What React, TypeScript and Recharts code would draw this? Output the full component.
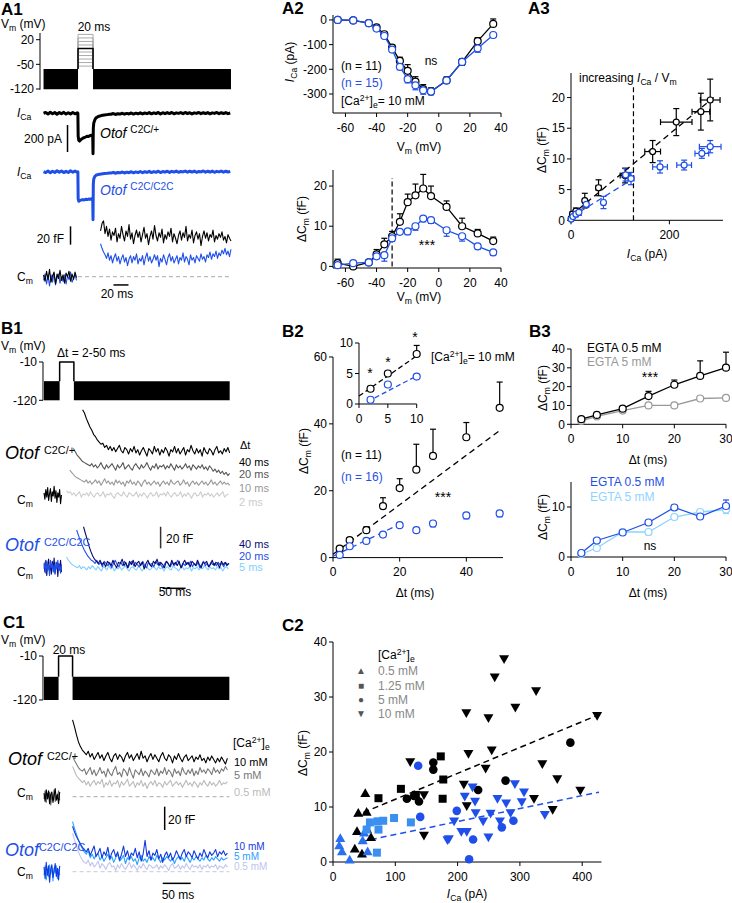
import React from 'react'
import { ComposedChart, Scatter, XAxis, YAxis, ErrorBar, ReferenceArea } from 'recharts'

// ---------- A1 example traces ----------
const a1Hold = [-121, -63]
const a1Blocks = [[0, 46], [66, 250]]
const a1Levels = [35, 25, 15, 5, -15, -25, -35, -45, -55]
const a1Peak = -5
const a1Pulse = [46, 66]
const a1IcaCtlPre = [0, 6, -5, 7, -4, 6, -7, 5, -3, 7, -6, 4, -5, 6, -4, 3]
const a1IcaCtlStep = [[45.8, 0], [46.2, -170], [47, -200], [48, -206], [50, -194], [52, -186], [54, -180], [56, -176], [58, -170], [60, -172], [62, -166], [64, -162], [65.6, -166], [66, -300], [66.4, -110], [67, -72], [68.5, -48], [70, -34], [73, -24], [77, -17], [81, -13], [85, -10], [88, -8]]
const a1IcaCtlPost = [-7, -2, -9, -3, -6, 0, -7, -1, -5, 2, -6, 1, -4, 3, -5, 2, -3, 5, -4, 3, -2, 6, -5, 4, -3, 5, -2, 6, -4, 3, -1, 5, -3, 6, -2, 4, -5, 3, -1, 6, -3, 4, -2, 5, -4, 3, -1, 6, -3, 4, -2, 5, -3, 2]
const a1IcaMutPre = [0, -6, 5, -7, 4, -5, 7, -4, 6, -6, 3, -5, 7, -3, 5, -4]
const a1IcaMutStep = [[45.8, 0], [46.2, -200], [47, -218], [48, -214], [50, -210], [52, -206], [54, -209], [56, -204], [58, -206], [60, -202], [62, -204], [64, -200], [65.6, -206], [66, -355], [66.4, -90], [67, -52], [68.5, -34], [70, -26], [73, -20], [77, -16], [81, -13], [85, -11], [88, -9]]
const a1IcaMutPost = [-10, -4, -11, -5, -8, -2, -9, -3, -7, 0, -8, -1, -6, 2, -7, 0, -5, 3, -6, 1, -4, 4, -6, 2, -3, 4, -5, 3, -2, 5, -4, 2, -1, 5, -3, 4, -2, 5, -4, 2, -1, 6, -3, 4, -2, 5, -4, 3, -1, 5, -3, 4, -2, 3]
const a1PreCtl = [2, -5, 6, -3, 8, -6, 1, 5, -8, 3, -2, 7, -4, 2, -7, 4, 0, 6, -5, 3, -3, 5, -1]
const a1PreMut = [-4, 3, -8, 1, -10, 2, -6, 4, -9, -1, 3, -7, 0, -5, 2, -8, 1, -3, 5, -6, -2, 3, -4]
const a1CmCtl = [50, 58, 61, 47, 55, 44, 52, 40, 49, 45, 53, 38, 47, 42, 55, 46, 39, 50, 44, 57, 41, 48, 36, 45, 51, 43, 49, 38, 46, 54, 42, 47, 35, 44, 50, 41, 56, 45, 39, 48, 43, 52, 37, 46, 41, 49, 44, 53, 38, 47, 42, 36, 45, 50, 40, 48, 43, 55, 39, 46, 42, 51, 37, 45, 49, 41, 47, 34, 44, 50, 42, 48, 39, 46, 43, 51, 38, 45, 41, 47, 43, 49, 40, 44, 37, 46, 42, 39]
const a1CmMut = [36, 31, 27, 24, 20, 26, 18, 23, 15, 21, 25, 17, 22, 14, 20, 24, 16, 21, 12, 19, 23, 15, 22, 18, 25, 14, 20, 17, 23, 13, 21, 26, 17, 22, 15, 19, 24, 18, 23, 11, 20, 16, 24, 19, 13, 21, 25, 17, 22, 15, 19, 23, 14, 21, 18, 26, 16, 22, 19, 13, 24, 18, 21, 15, 23, 20, 17, 25, 19, 22, 16, 24, 21, 27, 19, 25, 22, 28, 20, 26, 23, 29, 25, 31, 24, 28, 22, 30]

// ---------- A2 ----------
const vmSteps = [-65, -55, -45, -40, -35, -30, -25, -20, -15, -10, -5, 5, 15, 25, 35]
const icaCtl = [0, -2, -13, -30, -58, -112, -166, -206, -250, -280, -290, -245, -170, -86, -16]
const icaCtlSem = [2, 2, 4, 5, 8, 10, 15, 25, 20, 18, 15, 14, 12, 14, 20]
const icaMut = [0, -2, -13, -35, -65, -120, -190, -240, -265, -285, -290, -245, -170, -115, -61]
const icaMutSem = [2, 2, 4, 5, 8, 10, 12, 15, 18, 16, 14, 12, 14, 16, 10]
const dcmCtl = [0.8, 0, 1, 3, 5.5, 7.5, 11.1, 16, 17.7, 19.4, 17.5, 14.8, 10, 8.2, 6.3]
const dcmCtlSem = [1, 0.5, 0.5, 1.2, 1.5, 1.2, 2, 2, 2.8, 3.5, 2.5, 1.5, 2, 1, 1]
const dcmMut = [0.3, 0.8, 1, 2.5, 2.8, 7, 8.6, 8.7, 10, 11.9, 11.5, 9, 7.5, 5, 3.5]
const dcmMutSem = [0.5, 0.5, 0.5, 0.6, 1.5, 0.8, 0.6, 0.8, 1, 0.8, 0.8, 1.5, 1.2, 0.8, 0.8]

// ---------- A3 ----------
const a3CtlI = [0.5, 3, 10, 28, 56, 110, 166, 214, 264, 283]
const a3CtlC = [0.3, 1.0, 1.5, 3.2, 5.3, 7.3, 11.2, 16, 17.7, 19.6]
const a3CtlIe = [0.5, 2, 3, 4, 5, 10, 16, 32, 18, 20]
const a3CtlCe = [0.3, 0.4, 0.5, 1.2, 1.3, 1.2, 1.8, 2.2, 3, 3.4]
const a3MutI = [0.5, 4, 10, 16, 31, 66, 111, 122, 181, 230, 266, 283]
const a3MutC = [0.2, 0.6, 1.0, 1.3, 2.6, 2.9, 7.4, 6.8, 8.7, 9.0, 10.9, 12.0]
const a3MutIe = [0.5, 2, 3, 4, 5, 4, 7, 6, 15, 15, 14, 22]
const a3MutCe = [0.2, 0.3, 0.4, 0.5, 0.5, 1, 1, 1, 1, 0.8, 0.8, 1]
const a3FitCtl = [[0, 0.8], [290, 20]]
const a3FitMut = [[0, 0.5], [127, 6.8]]
const a3Thresh = 127

// ---------- B1 ----------
const b1Pulse = [34, 65]
const b1Blocks = [[0, 34], [65, 404]]
const b1PreCtl = [2, -4, 5, -2, 7, -5, 1, 6, -6, 3, -1, 8, -3, 4, -7, 2, -2, 5, -8, 0]
const b1Ctl40 = [79, 76, 71, 67, 63, 60, 56, 54, 51, 49, 47, 48, 44, 46, 42, 45, 41, 44, 40, 43, 46, 41, 39, 44, 42, 38, 43, 40, 45, 39, 42, 37, 41, 44, 40, 36, 43, 41, 38, 45, 40, 43, 37, 42, 39, 44, 41, 36, 42, 40, 45, 39, 43, 38, 41, 44, 37, 42, 40, 46, 41, 38, 43, 39, 42, 36, 44, 40, 38, 43, 41, 37, 42, 45, 39, 41, 38, 43, 40, 44, 39]
const b1Ctl20 = [43, 40, 37, 35, 33, 31, 30, 29, 28, 27, 29, 26, 28, 25, 27, 30, 26, 24, 28, 25, 27, 29, 26, 23, 28, 25, 27, 30, 24, 26, 28, 25, 23, 27, 29, 26, 24, 28, 25, 27, 30, 26, 23, 27, 25, 29, 24, 27, 26, 28, 24, 27, 25, 29, 26, 23, 28, 25, 27, 24, 26, 29, 25, 27, 23, 28, 26, 24, 27, 25, 28, 24, 26, 23, 27, 25, 22, 24, 21, 23, 20, 22, 19, 21, 18, 20]
const b1Ctl10 = [23, 21, 19, 17, 16, 15, 14, 13, 12, 14, 11, 13, 10, 12, 14, 11, 13, 9, 12, 15, 11, 13, 10, 12, 9, 14, 11, 13, 10, 12, 8, 13, 11, 14, 10, 12, 9, 13, 11, 8, 12, 14, 10, 12, 9, 11, 13, 10, 12, 8, 11, 13, 10, 12, 9, 14, 11, 10, 12, 13, 9, 11, 14, 10, 12, 8, 11, 13, 10, 12, 9, 11, 13, 10, 12, 9, 11, 14, 10, 12, 9, 11, 13, 10, 12, 10, 11, 9]
const b1Ctl2 = [4, 2, 3, 0, 2, -1, 1, 3, -2, 1, 0, 2, -1, 3, 0, -2, 1, 2, -1, 0, 3, -2, 1, 0, 2, -1, -3, 1, 2, 0, -1, 3, 0, -2, 2, 1, -1, 0, 3, -2, 1, -1, 2, 0, -3, 1, 2, -1, 0, 3, -2, 1, 0, 2, -1, 3, 0, -2, 1, 2, -1, 0, 3, -2, 1, -1, 2, 0, -3, 1, 2, -1, 0, 3, -2, 1, 0, 2, -1, 1, -2, 0, 2, -1, 1, 3, -2, 0, 1]
const b1PreMutA = [3, -5, 6, -8, 2, 7, -4, 1, -7, 5, -2, 8, -6, 0, 4, -9, 3, -3, 6, -5]
const b1PreMutB = [-2, 4, -6, 5, -3, 1, -8, 6, -1, 3, -5, 2, -7, 4, -2, 6, -4, 1, -6, 2]
const b1Mut40 = [37, 31, 25, 19, 14, 10, 7, 5, 3, 6, 2, 4, 0, 5, 3, 1, 6, 2, -1, 4, 3, 7, 1, 4, -1, 5, 2, 6, 0, 3, 5, 1, 4, -2, 3, 6, 2, 0, 5, 3, 7, 1, 4, 2, -1, 5, 3, 0, 6, 2, 4, 1, 5, -1, 3, 6, 2, 4, 0, 5, 3, 1, 6, 2, -1, 4, 3, 5, 0, 2, 6, 1, 4, 3, -1, 5, 2, 4, 1, 3]
const b1Mut20 = [34, 29, 24, 20, 16, 13, 10, 8, 6, 5, 3, 6, 2, 4, 0, 5, 3, 1, 4, -1, 3, 6, 2, 0, 4, 1, 5, 2, -1, 3, 5, 1, 4, 2, 0, 3, 5, 1, -1, 4, 2, 3, 0, 5, 2, 4, 1, -1, 3, 5, 2, 0, 4, 1, 3, 6, 2, -1, 3, 1, 4, 2, 5, 0, 3, 1, 4, -1, 2, 5, 1, 3, 0, 4, 2, 3, 1, 4, 2, 3, 0, 4, 2, 3]
const b1Mut5 = [9, 6, 4, 2, 1, 0, -1, 1, -2, 0, -1, -3, 0, -2, 1, -1, -3, 0, -2, -4, 0, -1, -3, 1, -2, 0, -4, -1, -2, 0, -3, -1, 1, -2, -4, -1, 0, -2, -3, 0, -1, -4, -2, 0, -1, -3, -2, 0, -1, -3, 0, -2, -1, -4, -1, 0, -2, -3, 1, -1, -2, -4, -1, 0, -3, -1, -2, 0, -4, -1, -2, 0, -3, -1, -2, 1, -1, -3, 0, -2, -1, -3, 0, -2, -1, -4, -1, 0, -2]

// ---------- B2 ----------
const dtSteps = [2, 5, 10, 15, 20, 25, 30, 40, 50]
const b2Ctl = [2.7, 5.2, 8.2, 15.4, 20.8, 26.3, 30.4, 36, 44.8]
const b2CtlSem = [0.5, 0.7, 1, 2.5, 2.8, 7.6, 8, 4.4, 7.7]
const b2Mut = [0.8, 3.4, 5.0, 6.9, 9.7, 8.2, 10.2, 12.6, 13.2]
const b2MutSem = [0.5, 0.5, 0.5, 0.6, 0.6, 0.6, 1, 1, 1]
const b2FitCtl = [[0, 1], [50, 38]]
const b2FitMut = [[0, 0.4], [20, 10]]
const insetDt = [2, 5, 10]
const insetCtl = [2.5, 5, 8.2]
const insetCtlSem = [0.4, 0.4, 1.4]
const insetMut = [0.7, 3.2, 4.5]
const insetMutSem = [0.3, 0.3, 0.3]
const insetFitCtl = [[0, 1.3], [10, 7.9]]
const insetFitMut = [[1.5, 0.4], [10, 4.6]]

// ---------- B3 ----------
const b3Dt = [2, 5, 10, 15, 20, 25, 30]
const b3CtlLo = [2.7, 5, 8.3, 15, 21, 25.7, 30.1]
const b3CtlLoSem = [0.5, 0.5, 1, 2.5, 2.5, 8, 8.2]
const b3CtlHi = [1.8, 4.2, 7.3, 10, 10, 13.7, 14]
const b3CtlHiSem = [0.3, 0.3, 0.3, 0.5, 0.5, 0.5, 0.5]
const b3MutLo = [0.8, 3.3, 4.9, 6.9, 9.9, 8.1, 10.2]
const b3MutLoSem = [0.3, 0.3, 0.3, 0.3, 0.4, 0.3, 1.2]
const b3MutHi = [0.6, 1.8, 5, 5, 8, 9, 9.5]
const b3MutHiSem = [0.2, 0.2, 0.3, 0.6, 0.3, 0.3, 0.8]

// ---------- C1 ----------
const c1Pulse = [26, 51]
const c1Blocks = [[0, 26], [51, 331]]
const c1PreA = [3, -4, 6, -2, 5, -6, 2, 4, -5, 1, 7, -3, 2, -6, 4]
const c1PreB = [-2, 5, -5, 3, -1, 4, -7, 2, -3, 6, -4, 1, -2, 5, -3]
const c1Ctl10 = [66, 60, 53, 47, 43, 40, 38, 36, 39, 34, 37, 32, 35, 38, 33, 36, 31, 35, 38, 33, 30, 35, 37, 32, 36, 34, 30, 35, 38, 33, 36, 31, 34, 37, 32, 39, 33, 35, 30, 34, 37, 32, 36, 33, 30, 35, 38, 33, 31, 36, 34, 29, 35, 32, 37, 33, 30, 34, 36, 31, 33, 35, 30, 34, 32, 36, 31, 33, 29, 34, 31, 35, 32, 29, 33, 30, 34, 31, 28, 33]
const c1Ctl5 = [35, 31, 28, 25, 23, 22, 24, 19, 22, 25, 19, 23, 18, 21, 25, 20, 22, 17, 24, 20, 18, 23, 26, 19, 21, 17, 24, 22, 18, 25, 20, 16, 23, 21, 19, 24, 18, 22, 20, 17, 23, 21, 19, 24, 18, 22, 20, 25, 19, 23, 21, 17, 24, 20, 22, 18, 25, 21, 19, 23, 20, 24, 18, 22, 19, 25, 21, 23, 20, 24, 22, 19, 25, 21, 23, 20, 24, 22, 26, 23]
const c1Ctl05 = [26, 22, 18, 16, 14, 12, 14, 10, 13, 9, 12, 14, 10, 13, 11, 15, 8, 12, 10, 14, 9, 12, 11, 14, 8, 13, 10, 12, 15, 9, 11, 13, 8, 12, 10, 14, 9, 12, 7, 11, 13, 10, 14, 9, 12, 11, 8, 13, 10, 12, 14, 9, 11, 13, 10, 12, 8, 11, 14, 10, 12, 9, 13, 11, 8, 12, 10, 14, 11, 9, 13, 10, 12, 9, 11, 14, 10, 12, 11, 13]
const c1PreC = [4, -6, 8, -3, 5, -9, 2, 6, -5, 1, 7, -4, 3, -7, 5]
const c1PreD = [-3, 5, -7, 2, -4, 6, -2, 4, -8, 3, -1, 5, -6, 2, -3]
const c1Mut10 = [39, 34, 30, 27, 24, 21, 19, 17, 20, 14, 18, 22, 13, 16, 20, 12, 17, 14, 21, 11, 16, 19, 13, 17, 10, 15, 22, 13, 18, 11, 16, 14, 20, 12, 17, 9, 15, 27, 13, 18, 10, 16, 14, 19, 11, 15, 8, 14, 17, 12, 16, 10, 13, 18, 14, 11, 16, 19, 13, 17, 15, 12, 18, 14, 11, 16, 13, 19, 15, 12, 17, 14, 16, 19, 13, 17, 15, 18, 14, 16]
const c1Mut5 = [43, 37, 32, 27, 23, 20, 17, 15, 18, 12, 15, 11, 14, 16, 10, 13, 9, 12, 15, 10, 13, 8, 12, 15, 9, 11, 14, 7, 12, 10, 13, 9, 11, 6, 12, 14, 9, 11, 8, 13, 10, 12, 9, 14, 11, 8, 12, 10, 13, 11, 9, 12, 7, 11, 13, 10, 12, 9, 14, 11, 8, 12, 10, 13, 11, 9, 12, 10, 14, 11, 9, 12, 10, 13, 11, 9, 12, 10, 11, 12]
const c1Mut05 = [33, 27, 22, 17, 13, 10, 8, 7, 10, 5, 8, 4, 6, 9, 3, 7, 5, 2, 6, 8, 4, 5, 1, 6, 3, 7, 4, 2, 5, 8, 3, 6, 4, 1, 5, 3, 7, 4, 2, 6, 5, 3, 4, 6, 2, 5, 3, 6, 4, 1, 5, 7, 3, 4, 6, 2, 5, 3, 7, 4, 2, 6, 4, 5, 3, 6, 2, 5, 4, 6, 3, 5, 4, 6, 2, 5, 4, 3, 6, 4]

// ---------- C2 (ICa, dCm) ----------
const c2CtlTriUp = [[51.8, 12.5], [40.6, 8.9], [54, 9.1], [38.5, 5.6], [54.5, 6], [61, 4.5], [35, 2.4], [46.5, 1.5]]
const c2CtlSq = [[73, 11.6], [109, 13.3], [133, 12.2], [173, 19.2], [177, 15], [176, 11.5]]
const c2CtlCirc = [[161, 18.1], [161, 16.8], [118.6, 11.5], [130, 12], [138, 11], [233, 13.1], [277, 14.8], [381, 21.7]]
const c2CtlTriDn = [[124, 18.2], [146, 12.2], [146, 4.8], [274.6, 36.9], [259.6, 33.6], [326, 31.1], [214, 27.1], [249.5, 26.2], [292.7, 28.1], [424, 26.6], [217.4, 19.7], [254.8, 20.3], [245, 17], [336, 17.8], [360, 15.1], [210, 14.1], [397, 13], [322.6, 11.5], [214.7, 10.2], [352.6, 9.5]]
const c2MutTriUp = [[11.7, 4.3], [10, 3], [14.4, 1.9], [26.7, 0.4], [47.6, 3.9], [50, 5.3], [55.6, 1.9]]
const c2MutSq = [[59.3, 7.2], [71.6, 7.4], [80.6, 7.5], [98, 8], [73, 5.9], [70.5, 1.7], [125, 7.2], [54, 5.9]]
const c2MutCirc = [[136.7, 17.5], [140, 8.2], [198.7, 9.3], [271, 6.3], [289.6, 7.5], [224.9, 4.1], [218.5, 0.5]]
const c2MutTriDn = [[224, 13.6], [292, 14.2], [306.6, 12.7], [211.5, 11.9], [228, 11], [264, 11.5], [278, 10.7], [303, 10.9], [229, 8.9], [253, 8.8], [285, 8.9], [241, 7.4], [194.4, 7.4], [268, 7.4], [340, 8.6], [206, 5.5], [214.7, 5.5], [186, 4.2], [249.5, 4.5], [183.7, 4]]
const c2FitCtl = [[34, 8.3], [427, 26.8]]
const c2FitMut = [[45, 3.7], [427, 12.7]]

// ---------- helpers ----------
const FONT = '"Liberation Sans", Arial, sans-serif'
const BLUE = '#1f4fe8'

const pairs = (p: number[][]) => p.map(([x, y]) => ({ x, y }))
const series = (t0: number, dt: number, ys: number[]) => ys.map((y, i) => ({ x: t0 + i * dt, y }))
const withErr = (xs: number[], ys: number[], es: number[], dir: 'up' | 'down') =>
  xs.map((x, i) => ({ x, y: ys[i], e: dir === 'up' ? [0, es[i]] : [es[i], 0] }))
const vline = (x: number, y0: number, y1: number) => [{ x, y: y0 }, { x, y: y1 }]
const hline = (y: number, x0: number, x1: number) => [{ x: x0, y }, { x: x1, y }]
const pulse = (p: number[], base: number, v: number) => pairs([[p[0], base], [p[0], v], [p[1], v], [p[1], base]])

const noDot = () => <g />
const ring = (color: string, r = 3.5) => (p: any) => (
  <circle cx={p.cx} cy={p.cy} r={r} fill="#fff" stroke={color} strokeWidth={1.2} />
)
const solid = (kind: string, color: string) => (p: any) => {
  const { cx, cy } = p
  const s = 5
  if (kind === 'up') return <polygon points={`${cx},${cy - s} ${cx + s},${cy + s * 0.75} ${cx - s},${cy + s * 0.75}`} fill={color} />
  if (kind === 'down') return <polygon points={`${cx - s},${cy - s * 0.75} ${cx + s},${cy - s * 0.75} ${cx},${cy + s}`} fill={color} />
  if (kind === 'sq') return <rect x={cx - 4} y={cy - 4} width={8} height={8} fill={color} />
  return <circle cx={cx} cy={cy} r={4.3} fill={color} />
}

const trace = (key: string, data: any[], color: string, w = 1.1, dash?: string) => (
  <Scatter key={key} data={data} line={{ stroke: color, strokeWidth: w, strokeDasharray: dash, strokeLinejoin: 'round' }} shape={noDot} isAnimationActive={false} />
)
const markers = (key: string, data: any[], color: string, joined: boolean, r = 3.5) => (
  <Scatter key={key} data={data} line={joined ? { stroke: color, strokeWidth: 1.3 } : false} shape={ring(color, r)} isAnimationActive={false}>
    <ErrorBar dataKey="e" direction="y" width={3} stroke={color} strokeWidth={1.2} isAnimationActive={false} />
  </Scatter>
)
const blocks = (key: string, segs: number[][], lo: number, hi: number) =>
  segs.map((s, i) => <ReferenceArea key={key + i} x1={s[0]} x2={s[1]} y1={lo} y2={hi} fill="#000" fillOpacity={1} stroke="none" />)

interface PlotProps {
  l: number; t: number; w: number; h: number
  xd: number[]; yd: number[]
  xt?: number[]; yt?: number[]
  children?: React.ReactNode
}

function Plot({ l, t, w, h, xd, yd, xt, yt, children }: PlotProps) {
  const yw = yt ? 40 : 0
  const xh = xt ? 24 : 0
  const m = 8
  const mb = xt ? 0 : m
  const tick = { fill: '#000', fontSize: 12 }
  return (
    <div style={{ position: 'absolute', left: l - yw, top: t - m }}>
      <ComposedChart width={yw + w + m} height={m + h + xh + mb} margin={{ top: m, right: m, bottom: mb, left: 0 }}>
        <XAxis type="number" dataKey="x" domain={xd} ticks={xt} hide={!xt} height={xh} interval={0}
          tickSize={4} tickMargin={6} stroke="#000" tick={tick} />
        <YAxis type="number" dataKey="y" domain={yd} ticks={yt} hide={!yt} width={yw} interval={0}
          tickSize={4} tickMargin={2} stroke="#000" tick={tick} />
        {children}
      </ComposedChart>
    </div>
  )
}

const Sub = ({ children }: any) => <span style={{ fontSize: '0.72em', position: 'relative', top: '0.3em' }}>{children}</span>
const Sup = ({ children, f = 0.72 }: any) => <span style={{ fontSize: `${f}em`, position: 'relative', top: '-0.5em' }}>{children}</span>

function T({ x, y, children, a = 'start', s = 12, c = '#000', b = false, i = false, r = false }: any) {
  const tx = a === 'middle' ? '-50%' : a === 'end' ? '-100%' : '0'
  return (
    <div style={{
      position: 'absolute', left: x, top: y, whiteSpace: 'nowrap', lineHeight: 1,
      transform: `translate(${r ? '-50%' : tx}, -50%)${r ? ' rotate(-90deg)' : ''}`,
      fontSize: s, color: c, fontWeight: b ? 'bold' : 'normal', fontStyle: i ? 'italic' : 'normal',
    }}>{children}</div>
  )
}

const ICa = () => <><i>I</i><Sub>Ca</Sub></>
const DCm = () => <>ΔC<Sub>m</Sub> (fF)</>
const Vm = () => <>V<Sub>m</Sub> (mV)</>
const Cae = () => <>[Ca<Sup>2+</Sup>]<Sub>e</Sub></>

export default function App() {
  const icaCtlTrace = [...series(0, 3, a1IcaCtlPre), ...pairs(a1IcaCtlStep), ...series(90, 3, a1IcaCtlPost)]
  const icaMutTrace = [...series(0, 3, a1IcaMutPre), ...pairs(a1IcaMutStep), ...series(90, 3, a1IcaMutPost)]
  return (
    <div style={{ position: 'absolute', left: 0, top: 0, width: 732, height: 903, background: '#fff', fontFamily: FONT, overflow: 'hidden' }}>
      {/* ===== A1 ===== */}
      <Plot l={39.5} t={33.3} w={191} h={56.7} xd={[-4.7, 250]} yd={[-122, 39]} yt={[-120, -50, 20]}>
        {blocks('a1b', a1Blocks, a1Hold[0], a1Hold[1])}
        {a1Levels.map((v, i) => trace('a1l' + i, pulse(a1Pulse, a1Hold[1], v), '#aaa', 1))}
        {trace('a1pk', pulse(a1Pulse, a1Hold[1], a1Peak), '#000', 1.5)}
      </Plot>
      <Plot l={39.5} t={103} w={191} h={57} xd={[-4.7, 250]} yd={[-346, 76]}>
        {trace('a1ic', icaCtlTrace, '#000', 3)}
        {trace('a1sb', vline(32, -87, -287), '#000', 1.5)}
      </Plot>
      <Plot l={39.5} t={160} w={191} h={65} xd={[-4.7, 250]} yd={[-394, 87]}>
        {trace('a1im', icaMutTrace, BLUE, 3)}
      </Plot>
      <Plot l={39.5} t={215} w={191} h={77} xd={[-4.7, 250]} yd={[-16.7, 67.4]}>
        {trace('a1base', hline(0, 46, 250), '#aaa', 1, '4 3')}
        {trace('a1pm', series(0, 2, a1PreMut), BLUE)}
        {trace('a1pc', series(0, 2, a1PreCtl), '#000')}
        {trace('a1cm', series(76, 2, a1CmMut), BLUE)}
        {trace('a1cc', series(76, 2, a1CmCtl), '#000')}
        {trace('a1sbf', vline(36, 35, 55), '#000', 1.5)}
        {trace('a1sbt', hline(-9, 93.3, 113.3), '#000', 1.5)}
      </Plot>
      <T x={1} y={9} s={17} b>A1</T>
      <T x={1} y={24}><Vm /></T>
      <T x={94} y={27} a="middle">20 ms</T>
      <T x={17} y={113}><ICa /></T>
      <T x={62} y={139} a="end">200 pA</T>
      <T x={100} y={133} s={14}><i>Otof</i> <Sup>C2C/+</Sup></T>
      <T x={17} y={172}><ICa /></T>
      <T x={100} y={190} s={14} c={BLUE}><i>Otof</i> <Sup>C2C/C2C</Sup></T>
      <T x={64} y={239} a="end">20 fF</T>
      <T x={17} y={277}>C<Sub>m</Sub></T>
      <T x={117} y={294} a="middle">20 ms</T>

      {/* ===== A2 ===== */}
      <Plot l={333} t={15} w={168} h={98} xd={[-68, 40]} yd={[-377, 20]} xt={[-60, -40, -20, 0, 20, 40]} yt={[-300, -200, -100, 0]}>
        {markers('a2ic', withErr(vmSteps, icaCtl, icaCtlSem, 'up'), '#000', true)}
        {markers('a2im', withErr(vmSteps, icaMut, icaMutSem, 'down'), BLUE, true)}
      </Plot>
      <T x={282} y={8} s={17} b>A2</T>
      <T x={290} y={62} r><ICa /> (pA)</T>
      <T x={419} y={147} a="middle"><Vm /></T>
      <T x={431} y={61} a="middle">ns</T>
      <T x={341} y={66}>(n = 11)</T>
      <T x={341} y={83} c={BLUE}>(n = 15)</T>
      <T x={341} y={101}><Cae />= 10 mM</T>

      <Plot l={333} t={170} w={168} h={98} xd={[-68, 40]} yd={[-0.4, 24]} xt={[-60, -40, -20, 0, 20, 40]} yt={[0, 10, 20]}>
        {trace('a2v', vline(-30, 0, 22), '#000', 1.2, '5 3')}
        {markers('a2cc', withErr(vmSteps, dcmCtl, dcmCtlSem, 'up'), '#000', true)}
        {markers('a2cm', withErr(vmSteps, dcmMut, dcmMutSem, 'down'), BLUE, true)}
      </Plot>
      <T x={302} y={219} r><DCm /></T>
      <T x={427} y={245} a="middle" s={14}>***</T>
      <T x={419} y={297} a="middle"><Vm /></T>

      {/* ===== A3 ===== */}
      <Plot l={571} t={72.7} w={152} h={147.3} xd={[0, 309]} yd={[0, 24]} xt={[0, 200]} yt={[0, 5, 10, 15, 20]}>
        {trace('a3v', vline(a3Thresh, 0, 21.7), '#000', 1.2, '5 3')}
        {trace('a3fc', pairs(a3FitCtl), '#000', 1.3, '6 4')}
        {trace('a3fm', pairs(a3FitMut), BLUE, 1.3, '6 4')}
        <Scatter data={a3CtlI.map((x, i) => ({ x, y: a3CtlC[i], e: a3CtlCe[i], ex: a3CtlIe[i] }))} shape={ring('#000', 3)} isAnimationActive={false}>
          <ErrorBar dataKey="e" direction="y" width={3} stroke="#000" strokeWidth={1.2} isAnimationActive={false} />
          <ErrorBar dataKey="ex" direction="x" width={3} stroke="#000" strokeWidth={1.2} isAnimationActive={false} />
        </Scatter>
        <Scatter data={a3MutI.map((x, i) => ({ x, y: a3MutC[i], e: a3MutCe[i], ex: a3MutIe[i] }))} shape={ring(BLUE, 3)} isAnimationActive={false}>
          <ErrorBar dataKey="e" direction="y" width={3} stroke={BLUE} strokeWidth={1.2} isAnimationActive={false} />
          <ErrorBar dataKey="ex" direction="x" width={3} stroke={BLUE} strokeWidth={1.2} isAnimationActive={false} />
        </Scatter>
      </Plot>
      <T x={528} y={8} s={17} b>A3</T>
      <T x={579} y={78}>increasing <ICa /> / V<Sub>m</Sub></T>
      <T x={542} y={150} r><DCm /></T>
      <T x={647} y={254} a="middle"><ICa /> (pA)</T>

      {/* ===== B1 ===== */}
      <Plot l={43.3} t={361.7} w={186.7} h={38.3} xd={[-2.2, 404]} yd={[-120, -10]} yt={[-120, -10]}>
        {blocks('b1b', b1Blocks, -120, -65)}
        {trace('b1p', pulse(b1Pulse, -65, -10), '#000', 1.5)}
      </Plot>
      <Plot l={43.3} t={400} w={186.7} h={110} xd={[-2.2, 404]} yd={[-13.9, 88]}>
        {trace('b1pc', series(0, 2, b1PreCtl), '#000')}
        {trace('b1c2', series(49, 4, b1Ctl2), '#ccc')}
        {trace('b1c10', series(56, 4, b1Ctl10), '#999')}
        {trace('b1c20', series(64, 4, b1Ctl20), '#555')}
        {trace('b1c40', series(84, 4, b1Ctl40), '#000')}
      </Plot>
      <Plot l={43.3} t={515} w={186.7} h={80} xd={[-2.2, 404]} yd={[-26.2, 47.9]}>
        {trace('b1pa', series(0, 2, b1PreMutA), '#0c0c70')}
        {trace('b1pb', series(0, 2, b1PreMutB), BLUE)}
        {trace('b1m5', series(49, 4, b1Mut5), '#7fd0ff')}
        {trace('b1m20', series(71, 4, b1Mut20), BLUE)}
        {trace('b1m40', series(86, 4, b1Mut40), '#0c0c70')}
        {trace('b1sbf', vline(253.7, 17, 37), '#333', 1.5)}
        {trace('b1sbt', hline(-20, 258, 308), '#000', 1.5)}
      </Plot>
      <T x={1} y={328} s={17} b>B1</T>
      <T x={1} y={346}><Vm /></T>
      <T x={57} y={353}>Δt = 2-50 ms</T>
      <T x={5} y={453} s={18}><i>Otof</i> <Sup f={0.6}>C2C/+</Sup></T>
      <T x={17} y={500}>C<Sub>m</Sub></T>
      <T x={240} y={445} s={11}>Δt</T>
      <T x={239} y={462} s={11}>40 ms</T>
      <T x={239} y={474} s={11} c="#555">20 ms</T>
      <T x={239} y={488} s={11} c="#999">10 ms</T>
      <T x={239} y={502} s={11} c="#ccc">2 ms</T>
      <T x={166} y={539}>20 fF</T>
      <T x={5} y={545} s={18} c={BLUE}><i>Otof</i> <Sup f={0.6}>C2C/C2C</Sup></T>
      <T x={17} y={572}>C<Sub>m</Sub></T>
      <T x={239} y={544} s={11} c="#0c0c70">40 ms</T>
      <T x={239} y={556} s={11} c={BLUE}>20 ms</T>
      <T x={239} y={567} s={11} c="#7fd0ff">5 ms</T>
      <T x={175} y={592} a="middle">50 ms</T>

      {/* ===== B2 ===== */}
      <Plot l={332.7} t={356.7} w={170} h={200.6} xd={[0, 51]} yd={[0, 60]} xt={[0, 20, 40]} yt={[0, 20, 40, 60]}>
        {trace('b2fc', pairs(b2FitCtl), '#000', 1.3, '6 4')}
        {trace('b2fm', pairs(b2FitMut), BLUE, 1.3, '6 4')}
        {markers('b2c', withErr(dtSteps, b2Ctl, b2CtlSem, 'up'), '#000', false)}
        {markers('b2m', withErr(dtSteps, b2Mut, b2MutSem, 'down'), BLUE, false)}
      </Plot>
      <Plot l={359} t={343.3} w={57.7} h={61} xd={[0, 10]} yd={[0, 10]} xt={[0, 5, 10]} yt={[0, 5, 10]}>
        {trace('ifc', pairs(insetFitCtl), '#000', 1.3, '5 3')}
        {trace('ifm', pairs(insetFitMut), BLUE, 1.3, '5 3')}
        {markers('ic', withErr(insetDt, insetCtl, insetCtlSem, 'up'), '#000', false)}
        {markers('im', withErr(insetDt, insetMut, insetMutSem, 'down'), BLUE, false)}
      </Plot>
      <T x={282} y={331} s={17} b>B2</T>
      <T x={370} y={373} a="middle" s={14}>*</T>
      <T x={388} y={362} a="middle" s={14}>*</T>
      <T x={415} y={337} a="middle" s={14}>*</T>
      <T x={431} y={357}><Cae />= 10 mM</T>
      <T x={341} y={455}>(n = 11)</T>
      <T x={341} y={477} c={BLUE}>(n = 16)</T>
      <T x={443} y={497} a="middle" s={14}>***</T>
      <T x={304} y={451} r><DCm /></T>
      <T x={415} y={593} a="middle">Δt (ms)</T>

      {/* ===== B3 ===== */}
      <Plot l={571} t={349} w={155} h={75.3} xd={[0, 30]} yd={[0, 40]} xt={[0, 10, 20, 30]} yt={[0, 10, 20, 30, 40]}>
        {markers('b3h', withErr(b3Dt, b3CtlHi, b3CtlHiSem, 'up'), '#999', true)}
        {markers('b3l', withErr(b3Dt, b3CtlLo, b3CtlLoSem, 'up'), '#000', true)}
      </Plot>
      <Plot l={571} t={481.7} w={155} h={75} xd={[0, 30]} yd={[0, 15]} xt={[0, 10, 20, 30]} yt={[0, 10]}>
        {markers('b3mh', withErr(b3Dt, b3MutHi, b3MutHiSem, 'down'), '#8fd3ff', true)}
        {markers('b3ml', withErr(b3Dt, b3MutLo, b3MutLoSem, 'up'), BLUE, true)}
      </Plot>
      <T x={529} y={331} s={17} b>B3</T>
      <T x={587} y={348}>EGTA 0.5 mM</T>
      <T x={587} y={362} c="#999">EGTA 5 mM</T>
      <T x={650} y={377} a="middle" s={14}>***</T>
      <T x={543} y={388} r><DCm /></T>
      <T x={648} y={460} a="middle">Δt (ms)</T>
      <T x={590} y={482} c={BLUE}>EGTA 0.5 mM</T>
      <T x={590} y={497} c="#8fd3ff">EGTA 5 mM</T>
      <T x={650} y={546} a="middle">ns</T>
      <T x={543} y={517} r><DCm /></T>
      <T x={648} y={593} a="middle">Δt (ms)</T>

      {/* ===== C1 ===== */}
      <Plot l={43.3} t={656} w={186.7} h={44} xd={[-1.8, 331.6]} yd={[-120, -10]} yt={[-120, -10]}>
        {blocks('c1b', c1Blocks, -120, -62)}
        {trace('c1p', pulse(c1Pulse, -62, -10), '#000', 1.5)}
      </Plot>
      <Plot l={43.3} t={715} w={186.7} h={95} xd={[-1.8, 331.6]} yd={[-11.4, 70.1]}>
        {trace('c1base', hline(0, 51, 331), '#aaa', 1, '4 3')}
        {trace('c1pb', series(0, 2, c1PreB), '#666')}
        {trace('c1pa', series(0, 2, c1PreA), '#000')}
        {trace('c1c05', series(51, 3.5, c1Ctl05), '#bbb')}
        {trace('c1c5', series(51, 3.5, c1Ctl5), '#777')}
        {trace('c1c10', series(51, 3.5, c1Ctl10), '#000')}
      </Plot>
      <Plot l={43.3} t={800} w={186.7} h={90} xd={[-1.8, 331.6]} yd={[-15.7, 61.5]}>
        {trace('c1mbase', hline(0, 51, 331), '#c8c8dc', 1, '4 3')}
        {trace('c1pd', series(0, 2, c1PreD), '#2aa0ff')}
        {trace('c1pc', series(0, 2, c1PreC), '#1238e0')}
        {trace('c1m05', series(51, 3.5, c1Mut05), '#c0c4ee')}
        {trace('c1m5', series(51, 3.5, c1Mut5), '#2aa0ff')}
        {trace('c1m10', series(51, 3.5, c1Mut10), '#1238e0')}
        {trace('c1sbf', vline(215.5, 35.8, 55.8), '#000', 1.5)}
        {trace('c1sbt', hline(-10, 212, 262), '#000', 1.5)}
      </Plot>
      <T x={3} y={622} s={17} b>C1</T>
      <T x={1} y={640}><Vm /></T>
      <T x={69} y={650} a="middle">20 ms</T>
      <T x={233} y={743}><Cae /></T>
      <T x={234} y={762} s={11}>10 mM</T>
      <T x={234} y={775} s={11} c="#777">5 mM</T>
      <T x={234} y={792} s={11} c="#bbb">0.5 mM</T>
      <T x={8} y={759} s={18}><i>Otof</i> <Sup f={0.6}>C2C/+</Sup></T>
      <T x={17} y={793}>C<Sub>m</Sub></T>
      <T x={168} y={820}>20 fF</T>
      <T x={5} y={850} s={18} c={BLUE}><i>Otof</i><Sup f={0.6}>C2C/C2C</Sup></T>
      <T x={17} y={872}>C<Sub>m</Sub></T>
      <T x={234} y={847} s={10} c="#1238e0">10 mM</T>
      <T x={234} y={857} s={10} c="#2aa0ff">5 mM</T>
      <T x={234} y={867} s={10} c="#c0c4ee">0.5 mM</T>
      <T x={178} y={895} a="middle">50 ms</T>

      {/* ===== C2 ===== */}
      <Plot l={332.5} t={642.3} w={268.5} h={220} xd={[0, 431]} yd={[0, 40]} xt={[0, 100, 200, 300, 400]} yt={[0, 10, 20, 30, 40]}>
        {trace('c2fc', pairs(c2FitCtl), '#000', 1.5, '6 4')}
        {trace('c2fm', pairs(c2FitMut), BLUE, 1.5, '6 4')}
        <Scatter data={pairs(c2CtlTriUp)} shape={solid('up', '#000')} isAnimationActive={false} />
        <Scatter data={pairs(c2CtlSq)} shape={solid('sq', '#000')} isAnimationActive={false} />
        <Scatter data={pairs(c2CtlCirc)} shape={solid('circ', '#000')} isAnimationActive={false} />
        <Scatter data={pairs(c2CtlTriDn)} shape={solid('down', '#000')} isAnimationActive={false} />
        <Scatter data={pairs(c2MutTriUp)} shape={solid('up', '#2a6ff0')} isAnimationActive={false} />
        <Scatter data={pairs(c2MutSq)} shape={solid('sq', '#3a8ff0')} isAnimationActive={false} />
        <Scatter data={pairs(c2MutCirc)} shape={solid('circ', BLUE)} isAnimationActive={false} />
        <Scatter data={pairs(c2MutTriDn)} shape={solid('down', BLUE)} isAnimationActive={false} />
      </Plot>
      <T x={282} y={625} s={17} b>C2</T>
      <T x={378} y={655}><Cae /></T>
      <T x={361} y={671} a="middle" s={10} c="#555">▲</T>
      <T x={361} y={686} a="middle" s={10} c="#555">■</T>
      <T x={361} y={700} a="middle" s={10} c="#555">●</T>
      <T x={361} y={714} a="middle" s={10} c="#555">▼</T>
      <T x={378} y={671} c="#888">0.5 mM</T>
      <T x={378} y={686} c="#888">1.25 mM</T>
      <T x={378} y={700} c="#888">5 mM</T>
      <T x={378} y={714} c="#888">10 mM</T>
      <T x={303} y={753} r><DCm /></T>
      <T x={467} y={894} a="middle"><ICa /> (pA)</T>
    </div>
  )
}
